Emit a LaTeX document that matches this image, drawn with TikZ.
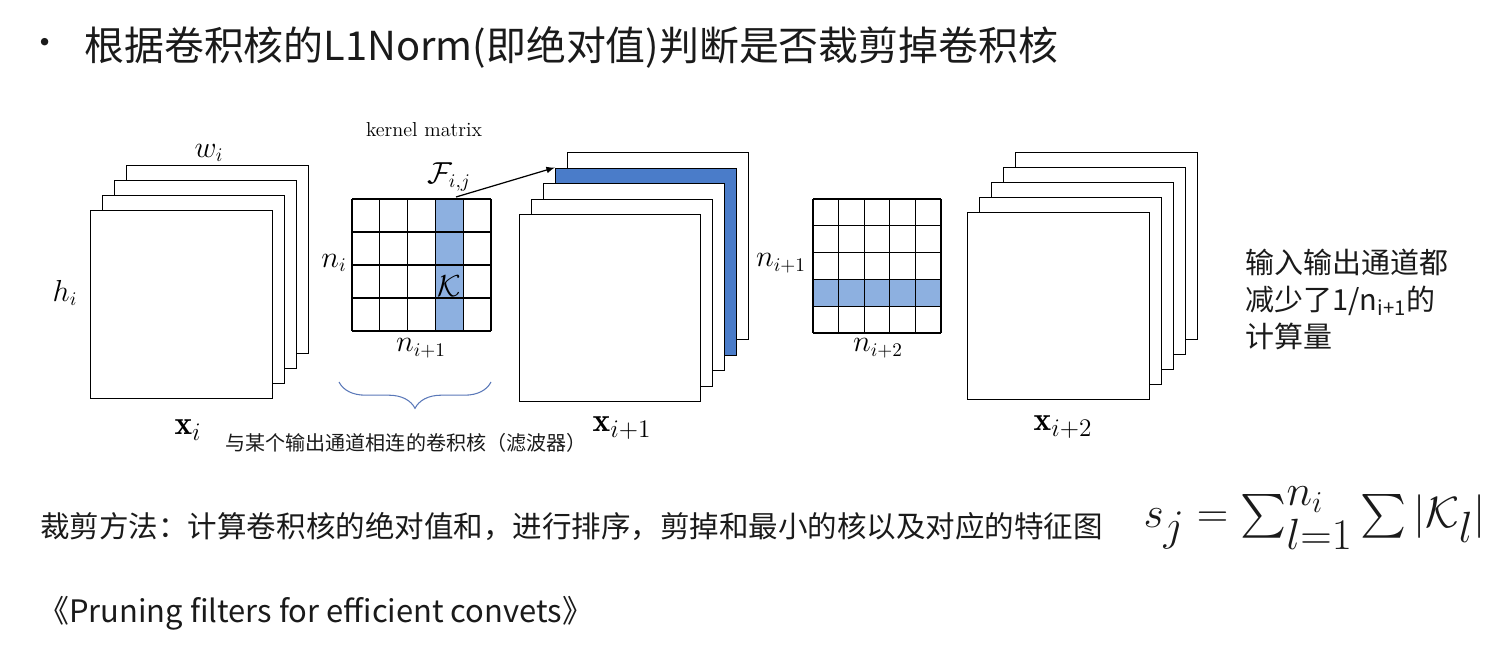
\documentclass[tikz,border=0pt]{standalone}
\usepackage{amsmath}
\usepackage{fontspec}
\usepackage{tikz}
\usetikzlibrary{positioning}
\usetikzlibrary{decorations.pathreplacing}
\newfontfamily\cjk{Noto Sans CJK SC}
\definecolor{sheetblue}{HTML}{4A7CC9}
\definecolor{colblue}{HTML}{8DB0E0}
\definecolor{braceblue}{HTML}{5A78B8}
\definecolor{ink}{HTML}{1A1A1A}

\begin{document}
\begin{tikzpicture}[x=0.02cm,y=-0.02cm]
\tikzstyle{sheet}=[rectangle, draw=black, fill=white, line width=0.8pt, anchor=north west, inner sep=0pt]
\tikzstyle{lbl}=[inner sep=0pt, font=\fontsize{16}{18}\selectfont]
\tikzstyle{zh}=[inner sep=0pt, text=ink]
\tikzstyle{connect}=[-latex, line width=0.7pt]
\useasboundingbox (0,0) rectangle (1500,652);

% title
\node[zh, font=\cjk\fontsize{20}{24}\selectfont] (dot) at (45,47) {•};
\node[zh, anchor=west, font=\cjk\fontsize{22.7}{26}\selectfont] (title) at (84,47) {根据卷积核的L1Norm(即绝对值)判断是否裁剪掉卷积核};

% feature maps X_i
\foreach \k in {3,2,1,0}
  \node[sheet, minimum width=182*0.02cm, minimum height=188*0.02cm] (a\k) at (90+12*\k,210-15*\k) {};
\node[lbl] (wi) at (209,153) {$w_i$};
\node[lbl] (hi) at (65,293) {$h_i$};
\node[lbl, font=\fontsize{19}{21}\selectfont] (xa) at (188,430) {$\mathbf{x}_i$};

% kernel matrix
\fill[colblue] (436,199) rectangle (463,331);
\foreach \c in {0,...,5}
  \draw[line width=0.7pt] (352+27.8*\c,199) -- (352+27.8*\c,331);
\foreach \r in {0,...,4}
  \draw[line width=0.7pt] (352,199+33*\r) -- (491,199+33*\r);
\node[inner sep=0pt, font=\fontsize{11.5}{13}\selectfont] (km) at (424,130) {kernel matrix};
\node[lbl] (ni) at (334,263) {$n_i$};
\node[lbl] (nia) at (421,348) {$n_{i+1}$};
\node[lbl] (kk) at (449,286) {$\mathcal{K}$};
\node[lbl] (fij) at (449,177) {$\mathcal{F}_{i,j}$};
\coordinate (coltop) at (456,197);

% brace
\coordinate (bl) at (339,382);
\coordinate (br) at (491,382);
\draw[braceblue, line width=0.6pt, decorate, decoration={brace, mirror, amplitude=15pt, aspect=0.5}] (bl) -- (br);
\node[zh, font=\cjk\fontsize{11.4}{13}\selectfont] (filt) at (406,443) {与某个输出通道相连的卷积核（滤波器）};

% feature maps X_{i+1}
\foreach \k in {4,3,2,1,0}
  \node[sheet, minimum width=181*0.02cm, minimum height=187*0.02cm] (b\k) at (519+12*\k,214-15.5*\k) {};
\node[sheet, fill=sheetblue, minimum width=181*0.02cm, minimum height=187*0.02cm] (b3) at (519+36,214-46.5) {};
\foreach \k in {2,1,0}
  \node[sheet, minimum width=181*0.02cm, minimum height=187*0.02cm] (c\k) at (519+12*\k,214-15.5*\k) {};
\path (coltop) edge [connect] (b3.north west);
\node[lbl, font=\fontsize{19}{21}\selectfont] (xb) at (622,428) {$\mathbf{x}_{i+1}$};

% second kernel matrix
\fill[colblue] (813,279) rectangle (941,306);
\foreach \c in {0,...,5}
  \draw[line width=0.7pt] (813+25.6*\c,199) -- (813+25.6*\c,333);
\foreach \r in {0,...,5}
  \draw[line width=0.7pt] (813,199+26.8*\r) -- (941,199+26.8*\r);
\node[lbl] (nib) at (781,263) {$n_{i+1}$};
\node[lbl] (nic) at (878,348) {$n_{i+2}$};

% feature maps X_{i+2}
\foreach \k in {4,3,2,1,0}
  \node[sheet, minimum width=182*0.02cm, minimum height=187*0.02cm] (d\k) at (967+12*\k,212-15*\k) {};
\node[lbl, font=\fontsize{19}{21}\selectfont] (xc) at (1063,427) {$\mathbf{x}_{i+2}$};

% note
\node[zh, anchor=north west, align=left, font=\cjk\fontsize{16.5}{21}\selectfont] (note) at (1245,249)
  {输入输出通道都\\减少了1/n\textsubscript{i+1}的\\计算量};

% bottom
\node[zh, anchor=west, font=\cjk\fontsize{16.8}{20}\selectfont] (method) at (40,527) {裁剪方法：计算卷积核的绝对值和，进行排序，剪掉和最小的核以及对应的特征图};
\node[inner sep=0pt, anchor=east, text=ink, font=\fontsize{38}{44}\selectfont] (sj) at (1486,518) {$s_j=\sum_{l=1}^{n_i}\sum|\mathcal{K}_l|$};
\node[zh, anchor=west, font=\cjk\fontsize{17.6}{21}\selectfont] (paper) at (38,613) {《Pruning filters for efficient convets》};
\end{tikzpicture}
\end{document}
